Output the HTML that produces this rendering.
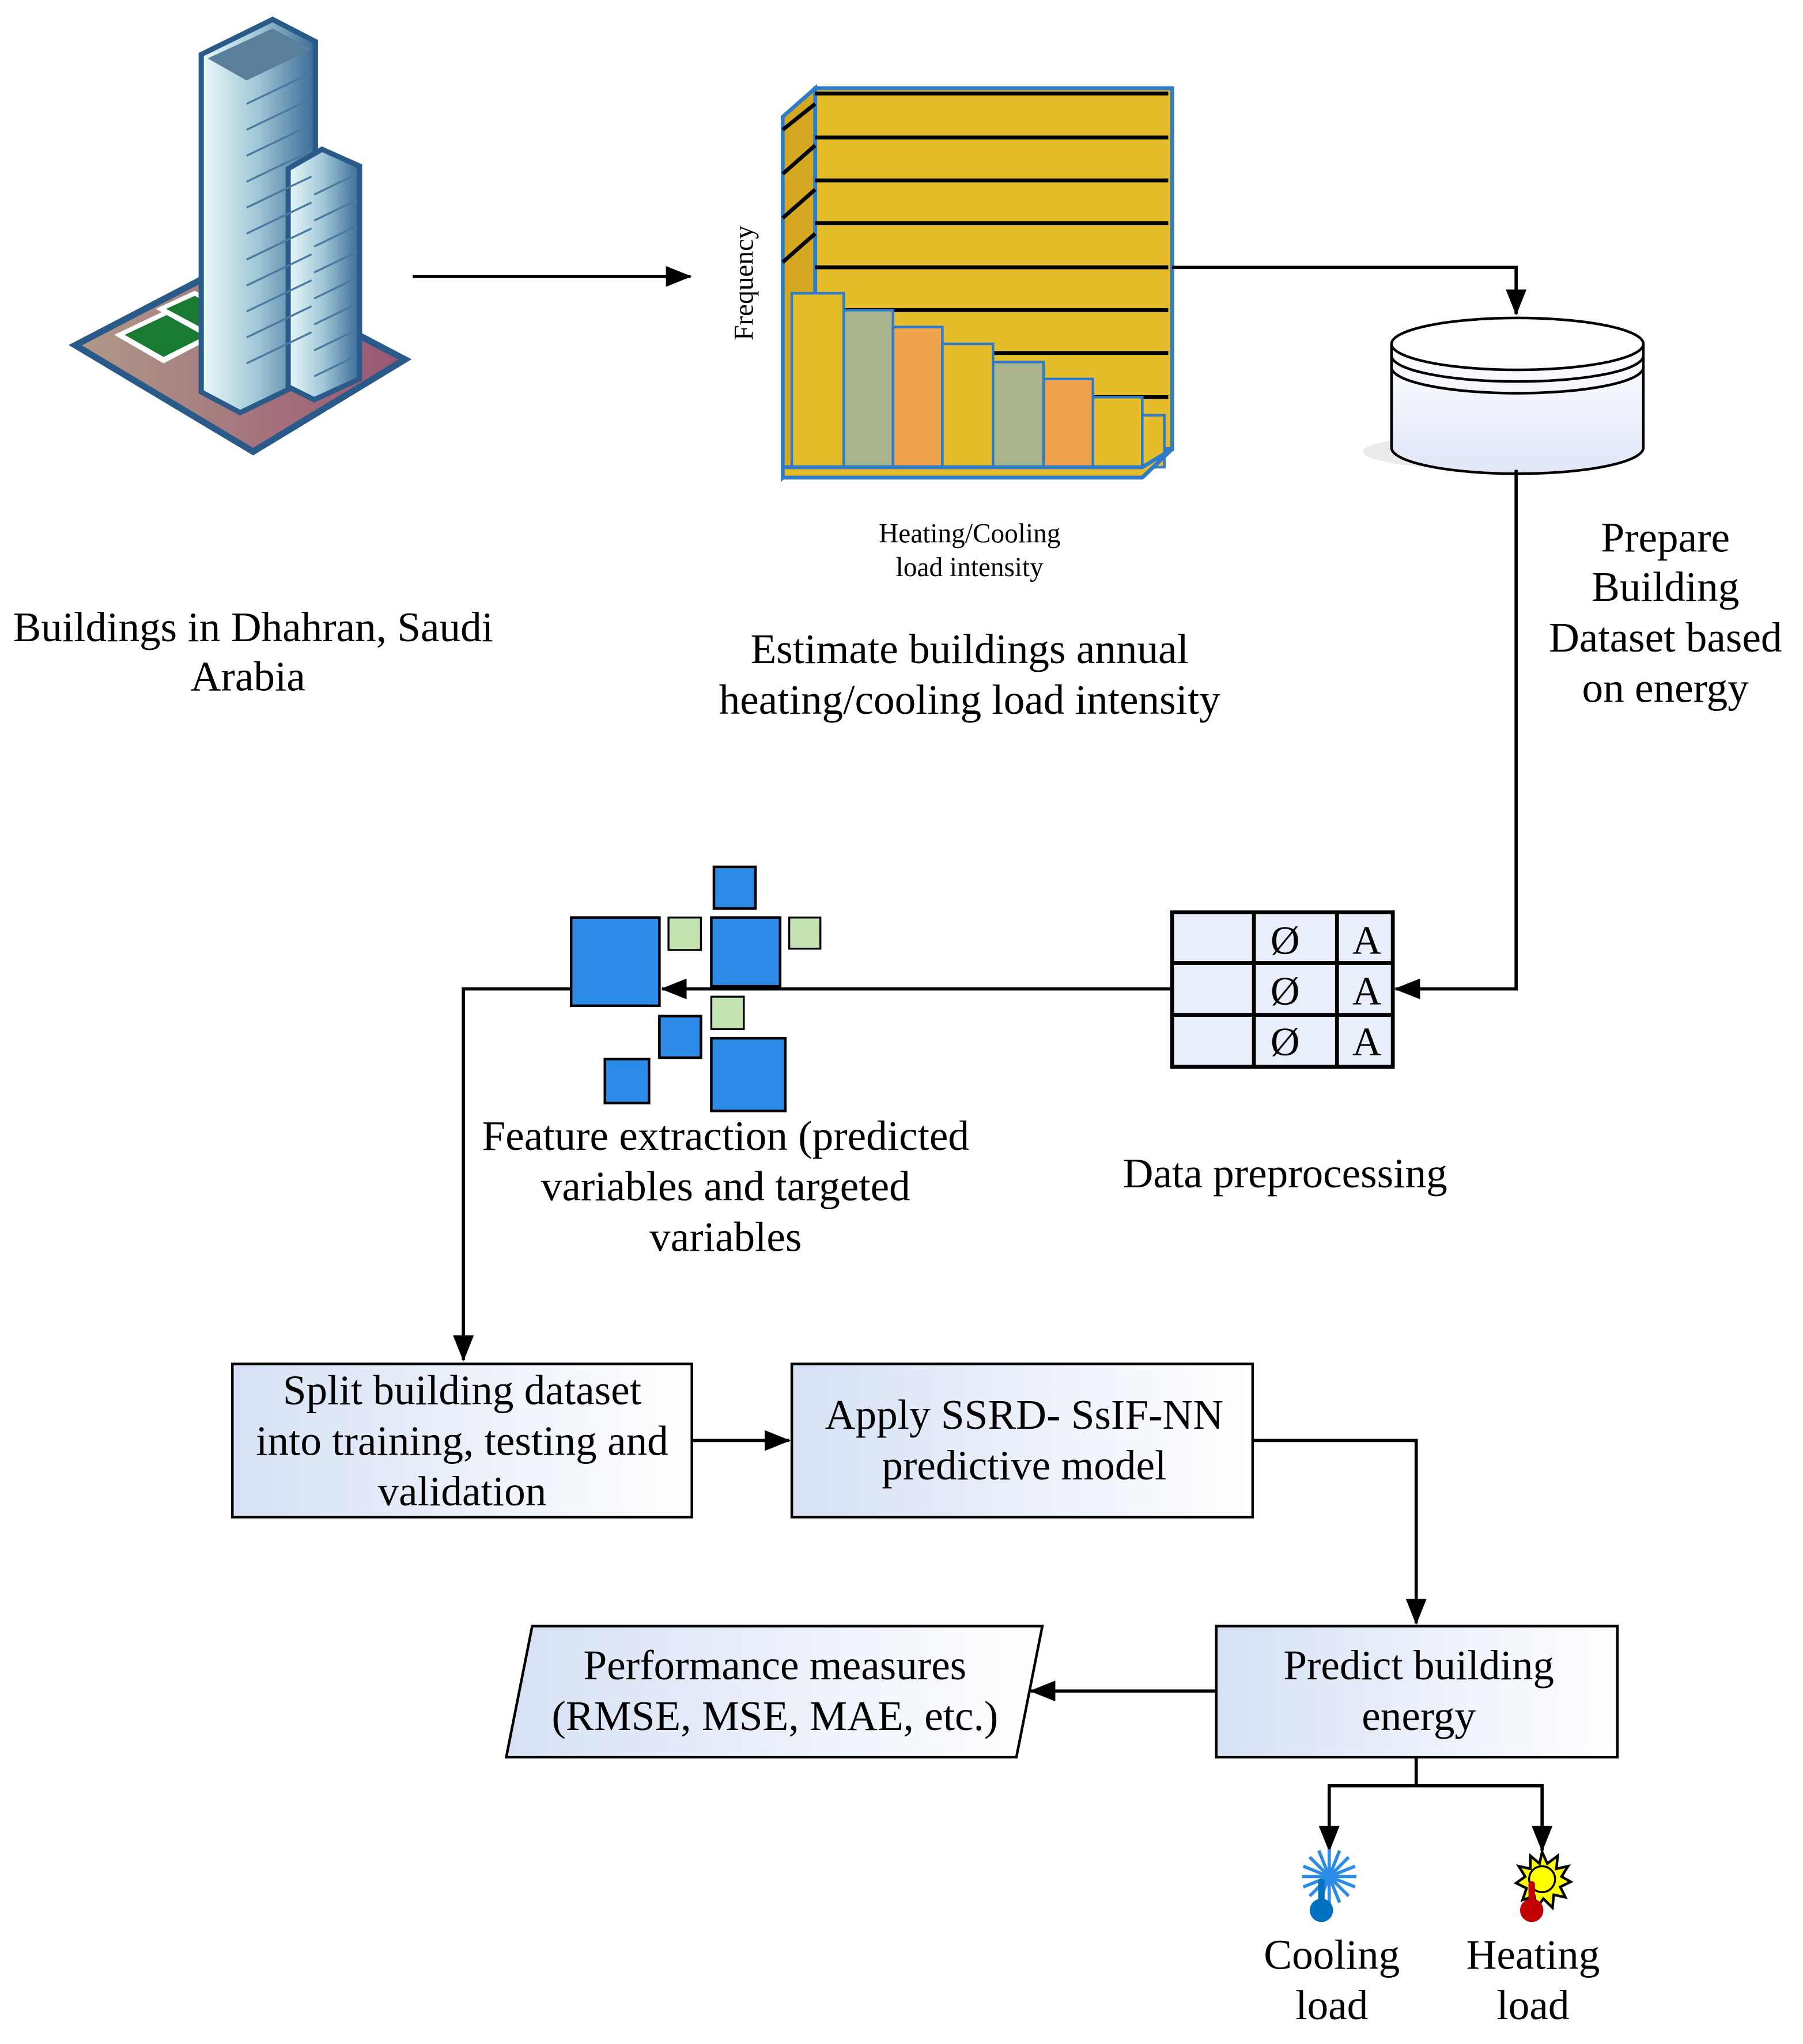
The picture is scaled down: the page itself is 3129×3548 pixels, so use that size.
<!DOCTYPE html>
<html><head><meta charset="utf-8"><style>html,body{margin:0;padding:0;background:#fff}svg{display:block}</style></head><body>
<svg width="3129" height="3548" viewBox="0 0 1389 1575" xmlns="http://www.w3.org/2000/svg" font-family="Liberation Serif, serif">
<defs>
<linearGradient id="bx" x1="0" x2="1"><stop offset="0" stop-color="#d6e1f5"/><stop offset="1" stop-color="#ffffff"/></linearGradient>
<linearGradient id="cyl" x1="0" x2="0" y1="0" y2="1"><stop offset="0" stop-color="#fff"/><stop offset="1" stop-color="#dfe6f7"/></linearGradient>
<linearGradient id="base" x1="0" x2="1"><stop offset="0" stop-color="#b09a88"/><stop offset="1" stop-color="#9a5674"/></linearGradient>
<linearGradient id="tw" x1="0" x2="1"><stop offset="0" stop-color="#eafafa"/><stop offset="0.5" stop-color="#9fc6d6"/><stop offset="1" stop-color="#3a6a96"/></linearGradient>
<marker id="ab" markerWidth="20" markerHeight="16" refX="19" refY="8" orient="auto" markerUnits="userSpaceOnUse"><path d="M0,0 L20,8 L0,16 Z" fill="#000"/></marker>
</defs>
<!-- building -->
<polygon points="58,266 175,205 312,277 195,348" fill="url(#base)" stroke="#2a5a8a" stroke-width="5"/>
<polygon points="88,258 130,238 168,258 126,280" fill="#fff"/><polygon points="96,258 130,242 160,258 126,275" fill="#1a7a32"/>
<polygon points="120,238 150,224 186,243 156,258" fill="#fff"/><polygon points="128,238 150,228 180,243 156,253" fill="#1a7a32"/>
<polygon points="155,42 210,15 243,32 243,290 185,318 155,302" fill="url(#tw)" stroke="#2a5a8a" stroke-width="4"/>
<polygon points="160,45 210,22 240,38 190,62" fill="#5a7f9a"/>
<polygon points="222,130 248,115 277,128 277,292 242,308 222,298" fill="url(#tw)" stroke="#2a5a8a" stroke-width="4"/>
<g stroke="#4a7aa0" stroke-width="1.5">
<line x1="190" y1="80" x2="240" y2="56"/><line x1="190" y1="100" x2="240" y2="76"/><line x1="190" y1="120" x2="240" y2="96"/><line x1="190" y1="140" x2="240" y2="116"/><line x1="190" y1="160" x2="240" y2="136"/><line x1="190" y1="180" x2="240" y2="156"/><line x1="190" y1="200" x2="240" y2="176"/><line x1="190" y1="220" x2="240" y2="196"/><line x1="190" y1="240" x2="240" y2="216"/><line x1="190" y1="260" x2="240" y2="236"/><line x1="190" y1="280" x2="240" y2="256"/>
<line x1="242" y1="150" x2="275" y2="134"/><line x1="242" y1="170" x2="275" y2="154"/><line x1="242" y1="190" x2="275" y2="174"/><line x1="242" y1="210" x2="275" y2="194"/><line x1="242" y1="230" x2="275" y2="214"/><line x1="242" y1="250" x2="275" y2="234"/><line x1="242" y1="270" x2="275" y2="254"/><line x1="242" y1="290" x2="275" y2="274"/>
</g>
<line x1="318" y1="213" x2="532" y2="213" stroke="#000" stroke-width="2.5" marker-end="url(#ab)"/>
<!-- chart -->
<polygon points="603,90 628,68 628,345 603,368" fill="#d4a820" stroke="#2e7bc8" stroke-width="3"/>
<rect x="628" y="68" width="275" height="278" fill="#e5bc2a" stroke="#2e7bc8" stroke-width="3"/>
<g stroke="#000" stroke-width="3"><line x1="628" y1="72" x2="900" y2="72"/><line x1="628" y1="106" x2="900" y2="106"/><line x1="628" y1="139" x2="900" y2="139"/><line x1="628" y1="172" x2="900" y2="172"/><line x1="628" y1="206" x2="900" y2="206"/><line x1="628" y1="239" x2="900" y2="239"/><line x1="628" y1="272" x2="900" y2="272"/><line x1="628" y1="306" x2="900" y2="306"/>
<line x1="603" y1="100" x2="628" y2="80"/><line x1="603" y1="134" x2="628" y2="112"/><line x1="603" y1="168" x2="628" y2="146"/><line x1="603" y1="202" x2="628" y2="180"/></g>
<g stroke="#2e7bc8" stroke-width="2">
<rect x="610" y="226" width="40" height="134" fill="#e5bc2a"/><rect x="650" y="239" width="38" height="121" fill="#a8b48e"/><rect x="688" y="252" width="38" height="108" fill="#f0a24a"/><rect x="726" y="265" width="39" height="95" fill="#e5bc2a"/><rect x="765" y="279" width="39" height="81" fill="#a8b48e"/><rect x="804" y="292" width="38" height="68" fill="#f0a24a"/><rect x="842" y="306" width="38" height="54" fill="#e5bc2a"/><rect x="880" y="320" width="17" height="40" fill="#e5bc2a"/></g>
<polygon points="603,368 880,368 903,346 880,360 603,360" fill="#e5bc2a" stroke="#2e7bc8" stroke-width="3"/>
<text x="580" y="218" font-size="21" text-anchor="middle" transform="rotate(-90 580 218)">Frequency</text>
<text x="747" y="418" font-size="21" text-anchor="middle">Heating/Cooling</text>
<text x="747" y="444" font-size="21" text-anchor="middle">load intensity</text>
<g font-size="32.5" text-anchor="middle">
<text x="195" y="494">Buildings in Dhahran, Saudi</text><text x="191" y="532">Arabia</text>
<text x="747" y="511">Estimate buildings annual</text><text x="747" y="550">heating/cooling load intensity</text>
<text x="1283" y="425">Prepare</text><text x="1283" y="463">Building</text><text x="1283" y="502">Dataset based</text><text x="1283" y="541">on energy</text>
<text x="559" y="886">Feature extraction (predicted</text><text x="559" y="925">variables and targeted</text><text x="559" y="964">variables</text>
<text x="990" y="915">Data preprocessing</text>
</g>
<polyline points="903,206 1168,206 1168,242" fill="none" stroke="#000" stroke-width="2.5" marker-end="url(#ab)"/>
<!-- cylinder -->
<ellipse cx="1150" cy="348" rx="100" ry="14" fill="#ddd" opacity="0.6"/>
<path d="M1072,265 L1072,345 A97,20 0 0 0 1266,345 L1266,265" fill="url(#cyl)" stroke="#000" stroke-width="2"/>
<ellipse cx="1169" cy="265" rx="97" ry="20" fill="#fff" stroke="#000" stroke-width="2"/>
<path d="M1072,274 A97,20 0 0 0 1266,274 M1072,283 A97,20 0 0 0 1266,283" fill="none" stroke="#000" stroke-width="2"/>
<polyline points="1168,362 1168,762 1075,762" fill="none" stroke="#000" stroke-width="2.5" marker-end="url(#ab)"/>
<!-- table -->
<rect x="903" y="703" width="170" height="119" fill="#e8eefa" stroke="#000" stroke-width="3"/>
<g stroke="#000" stroke-width="3"><line x1="966" y1="703" x2="966" y2="822"/><line x1="1030" y1="703" x2="1030" y2="822"/><line x1="903" y1="742" x2="1073" y2="742"/><line x1="903" y1="782" x2="1073" y2="782"/></g>
<g font-size="31" text-anchor="middle"><text x="990" y="735">Ø</text><text x="990" y="774">Ø</text><text x="990" y="813">Ø</text><text x="1053" y="735">A</text><text x="1053" y="774">A</text><text x="1053" y="813">A</text></g>
<line x1="903" y1="762" x2="510" y2="762" stroke="#000" stroke-width="2.5" marker-end="url(#ab)"/>
<!-- squares -->
<g fill="#2b8be6" stroke="#000" stroke-width="2">
<rect x="440" y="707" width="68" height="68"/><rect x="550" y="668" width="32" height="32"/><rect x="548" y="707" width="53" height="53"/><rect x="508" y="783" width="32" height="32"/><rect x="466" y="816" width="34" height="34"/><rect x="548" y="800" width="57" height="56"/></g>
<g fill="#c5e3b0" stroke="#000" stroke-width="1.5"><rect x="515" y="707" width="25" height="25"/><rect x="608" y="707" width="24" height="24"/><rect x="548" y="768" width="25" height="25"/></g>
<polyline points="440,762 357,762 357,1048" fill="none" stroke="#000" stroke-width="2.5" marker-end="url(#ab)"/>
<!-- boxes -->
<g stroke="#000" stroke-width="2">
<rect x="179" y="1051" width="354" height="118" fill="url(#bx)"/>
<rect x="610" y="1051" width="355" height="118" fill="url(#bx)"/>
<rect x="937" y="1253" width="309" height="101" fill="url(#bx)"/>
<polygon points="410,1253 803,1253 783,1354 390,1354" fill="url(#bx)"/></g>
<g font-size="32.5" text-anchor="middle">
<text x="356" y="1082">Split building dataset</text><text x="356" y="1121">into training, testing and</text><text x="356" y="1160">validation</text>
<text x="789" y="1101">Apply SSRD- SsIF-NN</text><text x="789" y="1140">predictive model</text>
<text x="1093" y="1294">Predict building</text><text x="1093" y="1333">energy</text>
<text x="597" y="1294">Performance measures</text><text x="597" y="1333">(RMSE, MSE, MAE, etc.)</text>
<text x="1026" y="1517">Cooling</text><text x="1026" y="1556">load</text>
<text x="1181" y="1517">Heating</text><text x="1181" y="1556">load</text>
</g>
<line x1="533" y1="1110" x2="608" y2="1110" stroke="#000" stroke-width="2.5" marker-end="url(#ab)"/>
<polyline points="965,1110 1091,1110 1091,1251" fill="none" stroke="#000" stroke-width="2.5" marker-end="url(#ab)"/>
<line x1="937" y1="1303" x2="794" y2="1303" stroke="#000" stroke-width="2.5" marker-end="url(#ab)"/>
<polyline points="1091,1354 1091,1376 1024,1376 1024,1426" fill="none" stroke="#000" stroke-width="2.5" marker-end="url(#ab)"/>
<polyline points="1091,1376 1188,1376 1188,1426" fill="none" stroke="#000" stroke-width="2.5" marker-end="url(#ab)"/>
<!-- cooling icon -->
<g stroke="#2b8be6" stroke-width="2.5">
<line x1="1003" y1="1446" x2="1045" y2="1446"/><line x1="1024" y1="1425" x2="1024" y2="1467"/><line x1="1009" y1="1431" x2="1039" y2="1461"/><line x1="1039" y1="1431" x2="1009" y2="1461"/><line x1="1016" y1="1426" x2="1032" y2="1466"/><line x1="1032" y1="1426" x2="1016" y2="1466"/><line x1="1004" y1="1438" x2="1044" y2="1454"/><line x1="1044" y1="1438" x2="1004" y2="1454"/></g>
<line x1="1018" y1="1450" x2="1018" y2="1470" stroke="#0070c0" stroke-width="5" stroke-linecap="round"/><circle cx="1018" cy="1472" r="9" fill="#0070c0"/>
<!-- heating icon -->
<polygon points="1188,1427 1192,1436 1200,1430 1199,1440 1208,1438 1203,1446 1210,1450 1202,1454 1206,1462 1197,1460 1196,1470 1189,1463 1184,1470 1182,1461 1173,1464 1176,1455 1168,1451 1175,1446 1170,1438 1179,1440 1179,1430 1186,1436" fill="#ff0" stroke="#000" stroke-width="2"/>
<circle cx="1188" cy="1448" r="10" fill="#ff0" stroke="#000" stroke-width="1.5"/>
<line x1="1180" y1="1452" x2="1180" y2="1470" stroke="#c00000" stroke-width="5" stroke-linecap="round"/><circle cx="1180" cy="1472" r="9" fill="#c00000"/>
</svg>
</body></html>
